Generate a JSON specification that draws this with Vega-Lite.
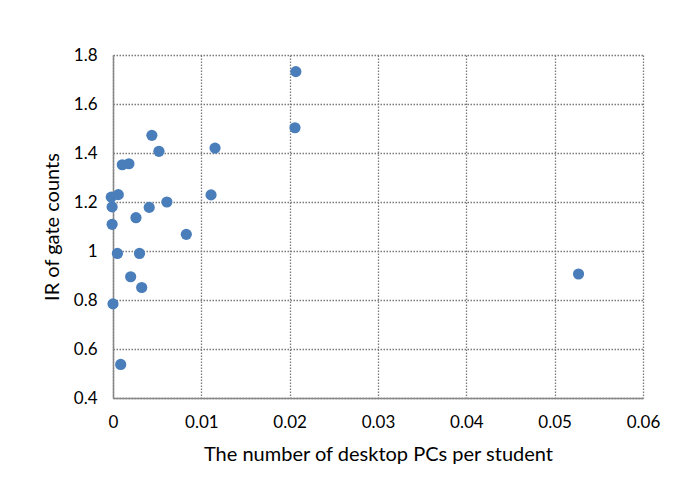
{
  "$schema": "https://vega.github.io/schema/vega-lite/v6.json",
  "width": 530,
  "height": 343,
  "autosize": "none",
  "padding": {"left": 113, "top": 55, "right": 32, "bottom": 95},
  "background": "white",
  "data": {
    "values": [
      {"pcs": 0.0044, "ir": 1.472},
      {"pcs": 0.0052, "ir": 1.407},
      {"pcs": 0.01155, "ir": 1.42},
      {"pcs": 0.00105, "ir": 1.352},
      {"pcs": 0.0018, "ir": 1.356},
      {"pcs": -0.0002, "ir": 1.22},
      {"pcs": 0.0006, "ir": 1.23},
      {"pcs": -0.0001, "ir": 1.18},
      {"pcs": 0.0041, "ir": 1.178},
      {"pcs": 0.0061, "ir": 1.2},
      {"pcs": 0.0111, "ir": 1.229},
      {"pcs": 0.0026, "ir": 1.136},
      {"pcs": -0.0001, "ir": 1.109},
      {"pcs": 0.0083, "ir": 1.068},
      {"pcs": 0.0005, "ir": 0.99},
      {"pcs": 0.003, "ir": 0.99},
      {"pcs": 0.002, "ir": 0.895},
      {"pcs": 0.00325, "ir": 0.851},
      {"pcs": 0.0, "ir": 0.784},
      {"pcs": 0.00087, "ir": 0.537},
      {"pcs": 0.0527, "ir": 0.906},
      {"pcs": 0.0207, "ir": 1.732},
      {"pcs": 0.0206, "ir": 1.503}
    ]
  },
  "mark": {"type": "point", "filled": true, "opacity": 1, "size": 125, "color": "#4a7ebb", "clip": false},
  "encoding": {
    "x": {
      "field": "pcs",
      "type": "quantitative",
      "scale": {"domain": [0, 0.06], "nice": false, "zero": false},
      "axis": {
        "values": [0, 0.01, 0.02, 0.03, 0.04, 0.05, 0.06],
        "format": "~g",
        "title": "The number of desktop PCs per student",
        "labelPadding": 16,
        "titlePadding": 14
      }
    },
    "y": {
      "field": "ir",
      "type": "quantitative",
      "scale": {"domain": [0.4, 1.8], "nice": false, "zero": false},
      "axis": {
        "values": [0.4, 0.6, 0.8, 1, 1.2, 1.4, 1.6, 1.8],
        "format": "~g",
        "title": "IR of gate counts",
        "labelPadding": 16,
        "titlePadding": 11
      }
    }
  },
  "config": {
    "view": {"stroke": null},
    "font": "Lato",
    "axis": {
      "domainColor": "#868686",
      "domainWidth": 1.5,
      "ticks": false,
      "grid": true,
      "gridColor": "#7a7a7a",
      "gridDash": [1.5, 1.5],
      "gridWidth": 1.3,
      "labelFlush": false,
      "labelFont": "Lato",
      "labelFontSize": 17,
      "labelColor": "#000000",
      "titleFont": "Lato",
      "titleFontSize": 20,
      "titleFontWeight": "normal",
      "titleColor": "#000000"
    }
  }
}
